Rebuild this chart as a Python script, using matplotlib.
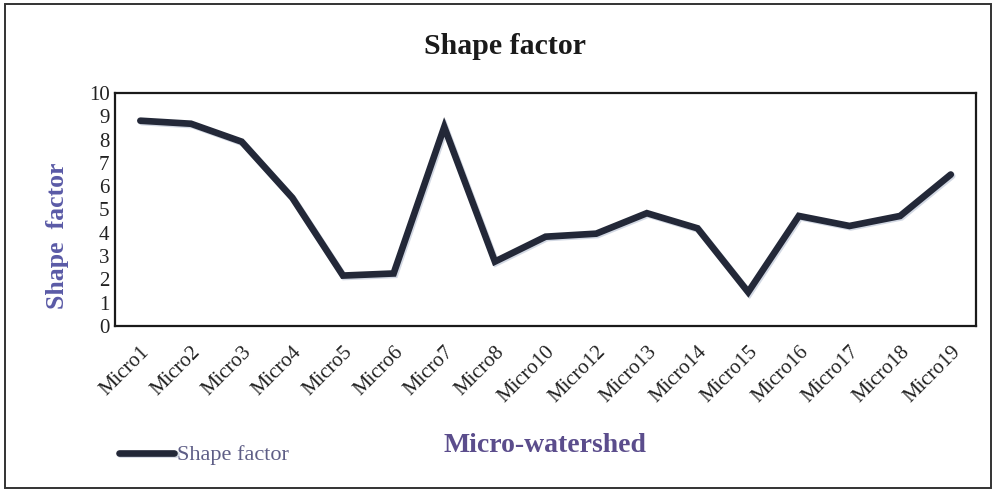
import matplotlib.pyplot as plt
import matplotlib.patheffects as pe
from matplotlib.patches import Rectangle

# shape factor per micro-watershed
watersheds = ['Micro1', 'Micro2', 'Micro3', 'Micro4', 'Micro5', 'Micro6',
              'Micro7', 'Micro8', 'Micro10', 'Micro12', 'Micro13', 'Micro14',
              'Micro15', 'Micro16', 'Micro17', 'Micro18', 'Micro19']
shape_factor = [8.81, 8.68, 7.91, 5.5, 2.16, 2.25, 8.54, 2.76, 3.83, 3.96,
                4.84, 4.19, 1.45, 4.72, 4.29, 4.72, 6.5]
yticks = list(range(0, 11))

plt.rcParams['font.family'] = ['Liberation Serif', 'DejaVu Serif']

fig = plt.figure(figsize=(9.95, 4.96), dpi=100)
ax = fig.add_axes([0.1156, 0.343, 0.8654, 0.4695])

x = range(len(watersheds))
ax.plot(x, shape_factor, color='#232838', lw=4.8, solid_capstyle='round',
        solid_joinstyle='miter', label='Shape factor',
        path_effects=[pe.SimpleLineShadow(offset=(1, -1), shadow_color='#8090b0', alpha=0.35),
                      pe.Normal()])

ax.set_xlim(-0.5, len(watersheds) - 0.5)
ax.set_ylim(0, 10)
ax.set_yticks(yticks)
ax.set_yticklabels([str(t) for t in yticks], fontsize=15, color='#222222')
ax.set_xticks(list(x))
ax.set_xticklabels(watersheds, fontsize=15, color='#222222', rotation=45,
                   ha='right', va='top', rotation_mode='anchor')
ax.tick_params(axis='both', length=0, pad=4)
ax.tick_params(axis='x', pad=12)
for s in ax.spines.values():
    s.set_linewidth(1.6)
    s.set_color('#1a1a1a')

# axis titles and chart title
fig.text(58 / 995, 1 - 236 / 496, 'Shape  factor', fontsize=18.5, fontweight='bold',
         color='#5a5aa6', rotation=90, ha='center', va='center')
fig.text(0.548, 1 - 445 / 496, 'Micro-watershed', fontsize=20, fontweight='bold',
         color='#5b4d8c', ha='center', va='center')
fig.text(0.508, 1 - 46 / 496, 'Shape factor', fontsize=21.5, fontweight='bold',
         color='#1a1a1a', ha='center', va='center')

fig.legend(loc='center left', bbox_to_anchor=(110 / 995, 1 - 455 / 496),
           frameon=False, fontsize=16, handlelength=2.5, handletextpad=0.1,
           labelcolor='#5e5e86', borderaxespad=0)

# outer chart border
fig.patches.append(Rectangle((5 / 995, 8 / 496), 986 / 995, 484 / 496,
                             transform=fig.transFigure, fill=False,
                             edgecolor='#333333', lw=1.4))

fig.savefig('out.png', dpi=100)
